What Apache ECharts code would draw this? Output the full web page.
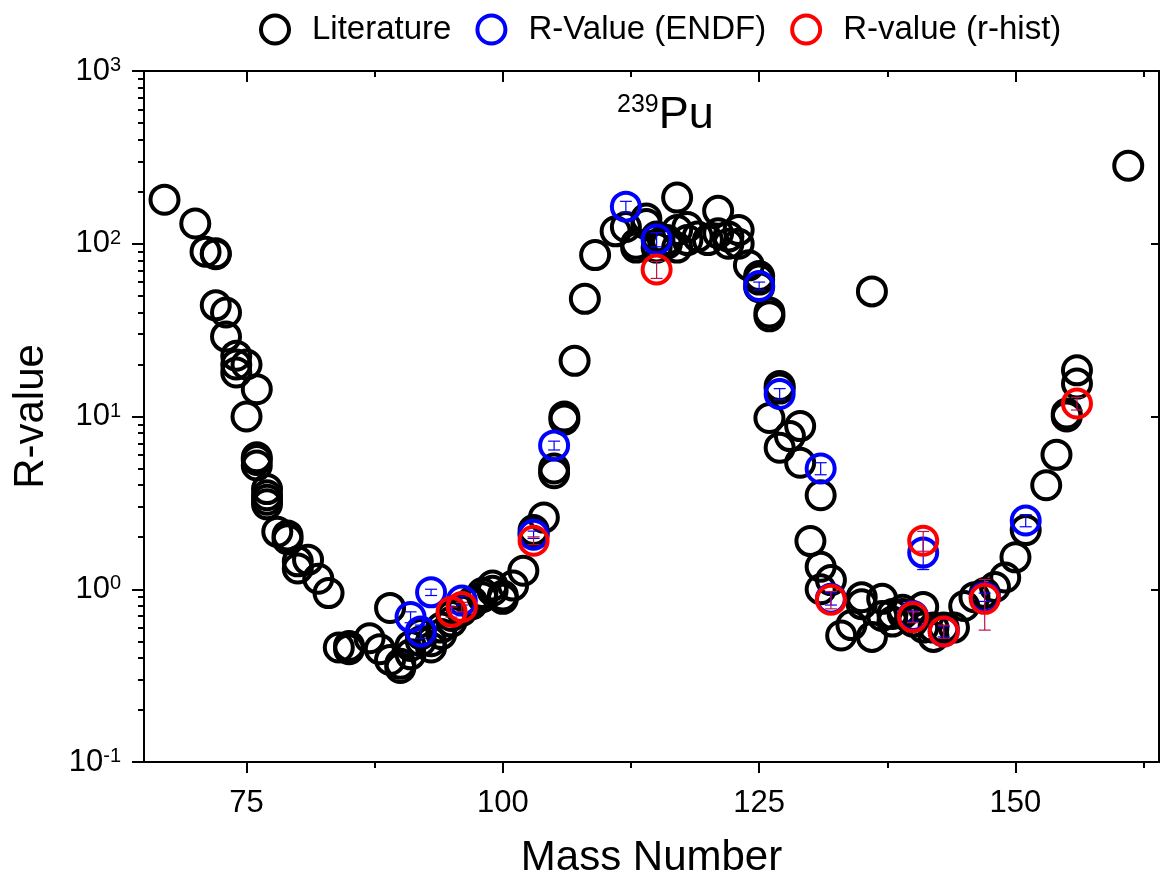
<!DOCTYPE html>
<html>
<head>
<meta charset="utf-8">
<script src="https://cdn.jsdelivr.net/npm/echarts@6/dist/echarts.min.js"></script>
<style>
  html, body { margin: 0; padding: 0; background: #fff; }
  #chart { width: 1161px; height: 884px; }
</style>
</head>
<body>
<div id="chart"></div>
<script>
// Literature R-values (mass number, R)
const litMass = [
  67, 70, 71, 72, 72, 72, 73, 73, 74, 74, 74, 75, 76, 75, 76, 76, 76, 77, 77, 77, 77,
  78, 79, 79, 80, 80, 81, 82, 83, 84, 85, 85, 87, 88, 89, 89, 90, 90, 91, 91, 92, 92,
  93, 93, 94, 94, 95, 95, 96, 97, 97, 98, 98, 99, 99, 100, 100, 101, 102, 103, 103, 104,
  105, 105, 106, 106, 107, 108, 109, 111, 112, 113, 113, 114, 114, 115, 115, 116, 116,
  117, 117, 117, 118, 118, 119, 120, 121, 121, 122, 122, 123, 123, 124, 125, 125, 125,
  126, 126, 126, 127, 127, 127, 128, 129, 129, 130, 131, 131, 131, 132, 133, 134, 135,
  135, 136, 136, 137, 137, 138, 138, 139, 139, 140, 141, 141, 142, 142, 143, 144, 145,
  146, 147, 148, 149, 150, 151, 153, 154, 155, 155, 156, 156, 161
];
const litValue = [
  180, 131, 90, 88, 87, 44, 40, 29, 22.5, 18, 20, 20, 14.4, 10, 5.6, 5.2, 5.8, 3.8, 3.5, 3.3, 3.1,
  2.15, 2.05, 1.95, 1.45, 1.32, 1.48, 1.15, 0.95, 0.46, 0.45, 0.47, 0.52, 0.45, 0.78, 0.39, 0.35, 0.37, 0.42, 0.47, 0.5, 0.55,
  0.46, 0.5, 0.55, 0.6, 0.7, 0.65, 0.75, 0.85, 0.82, 0.9, 0.95, 1.05, 0.98, 0.92, 0.88, 1.05, 1.28, 2.2, 2.1, 2.6,
  5.0, 4.7, 9.6, 10, 21, 48, 86, 118, 125, 100, 95, 130, 140, 110, 95, 100, 105,
  185, 120, 95, 105, 125, 110, 105, 155, 115, 110, 100, 120, 100, 75, 65, 56, 62,
  40, 38, 9.8, 15, 14.5, 6.6, 7.7, 8.8, 5.4, 1.9, 3.5, 1.35, 1.0, 1.13, 0.54, 0.62, 0.82,
  0.9, 0.53, 53, 0.88, 0.7, 0.72, 0.65, 0.76, 0.72, 0.65, 0.79, 0.6, 0.53, 0.6, 0.6, 0.6, 0.8,
  0.9, 0.95, 1.03, 1.17, 1.53, 2.2, 4.0, 6.0, 10, 10.4, 15.5, 18.5, 283
];

// R-Value (ENDF)
const endfMass  = [91, 92, 93, 96, 103, 105, 112, 115, 125, 127, 131, 132, 140, 141, 143, 147, 151];
const endfValue = [0.69, 0.57, 0.96, 0.86, 2.07, 6.8, 164, 106, 57, 13.5, 5.0, 0.88, 0.70, 1.63, 0.57, 0.9, 2.5];
const endfErr   = [0.05, 0.05, 0.04, 0.05, 0.1, 0.4, 12, 10, 3, 1, 0.4, 0.07, 0.05, 0.33, 0.04, 0.05, 0.2];

// R-value (r-hist)
const rhistMass  = [95, 96, 103, 115, 132, 140, 141, 143, 147, 156];
const rhistValue = [0.74, 0.79, 1.91, 71, 0.87, 0.69, 1.91, 0.57, 0.88, 11.9];
const rhistLow   = [0.69, 0.74, 1.81, 63, 0.77, 0.64, 1.66, 0.52, 0.58, 10.9];
const rhistHigh  = [0.79, 0.84, 2.01, 79, 0.97, 0.74, 2.16, 0.62, 1.14, 12.9];

const xMajorTicks = [75, 100, 125, 150];
const xMinorTicks = [87.5, 112.5, 137.5, 162.5];
const yMajorTicks = [0.1, 1, 10, 100, 1000];
const yRightTicks = [1, 10, 100];

const yMinorTicks = [];
[0.1, 1, 10, 100].forEach(d => {
  for (let k = 2; k <= 9; k++) yMinorTicks.push(+(d * k).toPrecision(3));
});

const FONT = '"Liberation Sans", Arial, sans-serif';
const X_MIN = 65, X_MAX = 164;
const Y_MIN = 0.1, Y_MAX = 1000;

const pairs = (xs, ys) => xs.map((x, i) => [x, ys[i]]);

const errorRender = color => (params, api) => {
  const x = api.value(0);
  const lo = api.coord([x, api.value(1)]);
  const hi = api.coord([x, api.value(2)]);
  const w = 6;
  const style = { stroke: color, lineWidth: 1.2 };
  return {
    type: 'group',
    children: [
      { type: 'line', shape: { x1: lo[0], y1: lo[1], x2: hi[0], y2: hi[1] }, style },
      { type: 'line', shape: { x1: lo[0] - w, y1: lo[1], x2: lo[0] + w, y2: lo[1] }, style },
      { type: 'line', shape: { x1: hi[0] - w, y1: hi[1], x2: hi[0] + w, y2: hi[1] }, style }
    ]
  };
};

const ringStyle = color => ({
  color: 'rgba(0,0,0,0)',
  borderColor: color,
  borderWidth: 4,
  opacity: 1
});

const axisLineStyle = { color: '#000', width: 2 };

const chart = echarts.init(document.getElementById('chart'));

chart.setOption({
  animation: false,
  backgroundColor: '#fff',
  textStyle: { fontFamily: FONT },
  title: {
    text: '{s|239}{p|Pu}',
    left: 612,
    top: 88,
    textStyle: {
      fontWeight: 'normal',
      rich: {
        s: { fontSize: 25, fontFamily: FONT, color: '#000', verticalAlign: 'top' },
        p: { fontSize: 45, fontFamily: FONT, color: '#000' }
      }
    }
  },
  legend: {
    top: 8,
    left: 254,
    itemWidth: 64,
    itemHeight: 28,
    itemGap: 24,
    textStyle: { fontSize: 33, fontFamily: FONT, color: '#000' },
    data: [
      { name: 'Literature', icon: 'circle', itemStyle: ringStyle('#000') },
      { name: 'R-Value (ENDF)', icon: 'circle', itemStyle: ringStyle('#0000ff') },
      { name: 'R-value (r-hist)', icon: 'circle', itemStyle: ringStyle('#ff0000') }
    ]
  },
  grid: { left: 144, right: 2, top: 71, bottom: 118 },
  xAxis: [
    {
      type: 'value', min: X_MIN, max: X_MAX, position: 'bottom',
      name: 'Mass Number', nameLocation: 'middle', nameGap: 75,
      nameTextStyle: { fontSize: 42, fontFamily: FONT, color: '#000' },
      axisLine: { show: true, lineStyle: axisLineStyle },
      axisTick: { show: true, inside: false, length: 11, customValues: xMajorTicks, lineStyle: axisLineStyle },
      axisLabel: { show: true, customValues: xMajorTicks, fontSize: 31, color: '#000', margin: 26, fontFamily: FONT },
      splitLine: { show: false }
    },
    {
      type: 'value', min: X_MIN, max: X_MAX, position: 'bottom',
      axisLine: { show: false },
      axisTick: { show: true, inside: false, length: 6, customValues: xMinorTicks, lineStyle: axisLineStyle },
      axisLabel: { show: false },
      splitLine: { show: false }
    },
    {
      type: 'value', min: X_MIN, max: X_MAX, position: 'top',
      axisLine: { show: true, lineStyle: axisLineStyle },
      axisTick: { show: true, inside: true, length: 11, customValues: xMajorTicks, lineStyle: axisLineStyle },
      axisLabel: { show: false },
      splitLine: { show: false }
    },
    {
      type: 'value', min: X_MIN, max: X_MAX, position: 'top',
      axisLine: { show: false },
      axisTick: { show: true, inside: true, length: 6, customValues: xMinorTicks, lineStyle: axisLineStyle },
      axisLabel: { show: false },
      splitLine: { show: false }
    }
  ],
  yAxis: [
    {
      type: 'log', logBase: 10, min: Y_MIN, max: Y_MAX, position: 'left',
      name: 'R-value', nameLocation: 'middle', nameGap: 92,
      nameTextStyle: { fontSize: 42, fontFamily: FONT, color: '#000' },
      axisLine: { show: true, lineStyle: axisLineStyle },
      axisTick: { show: true, inside: false, length: 12, customValues: yMajorTicks, lineStyle: axisLineStyle },
      axisLabel: {
        show: true, customValues: yMajorTicks, margin: 23,
        formatter: v => '{b|10}{e|' + Math.round(Math.log10(v)) + '}',
        rich: {
          b: { fontSize: 31, fontFamily: FONT, color: '#000' },
          e: { fontSize: 20, fontFamily: FONT, color: '#000', verticalAlign: 'top' }
        }
      },
      splitLine: { show: false }
    },
    {
      type: 'log', logBase: 10, min: Y_MIN, max: Y_MAX, position: 'left',
      axisLine: { show: false },
      axisTick: { show: true, inside: false, length: 6, customValues: yMinorTicks, lineStyle: axisLineStyle },
      axisLabel: { show: false },
      splitLine: { show: false }
    },
    {
      type: 'log', logBase: 10, min: Y_MIN, max: Y_MAX, position: 'right',
      axisLine: { show: true, lineStyle: axisLineStyle },
      axisTick: { show: true, inside: true, length: 8, customValues: yRightTicks, lineStyle: axisLineStyle },
      axisLabel: { show: false },
      splitLine: { show: false }
    }
  ],
  series: [
    {
      name: 'Literature', type: 'scatter', xAxisIndex: 0, yAxisIndex: 0,
      symbol: 'circle', symbolSize: 28,
      itemStyle: ringStyle('#000'),
      data: pairs(litMass, litValue), z: 2
    },
    {
      name: 'R-Value (ENDF) err', type: 'custom', xAxisIndex: 0, yAxisIndex: 0,
      renderItem: errorRender('#0000ff'),
      encode: { x: 0, y: [1, 2] },
      data: endfMass.map((m, i) => [m, endfValue[i] - endfErr[i], endfValue[i] + endfErr[i]]),
      z: 3, silent: true
    },
    {
      name: 'R-Value (ENDF)', type: 'scatter', xAxisIndex: 0, yAxisIndex: 0,
      symbol: 'circle', symbolSize: 28,
      itemStyle: ringStyle('#0000ff'),
      data: pairs(endfMass, endfValue), z: 4
    },
    {
      name: 'R-value (r-hist) err', type: 'custom', xAxisIndex: 0, yAxisIndex: 0,
      renderItem: errorRender('#c0104a'),
      encode: { x: 0, y: [1, 2] },
      data: rhistMass.map((m, i) => [m, rhistLow[i], rhistHigh[i]]),
      z: 5, silent: true
    },
    {
      name: 'R-value (r-hist)', type: 'scatter', xAxisIndex: 0, yAxisIndex: 0,
      symbol: 'circle', symbolSize: 28,
      itemStyle: ringStyle('#ff0000'),
      data: pairs(rhistMass, rhistValue), z: 6
    }
  ]
});
</script>
</body>
</html>
